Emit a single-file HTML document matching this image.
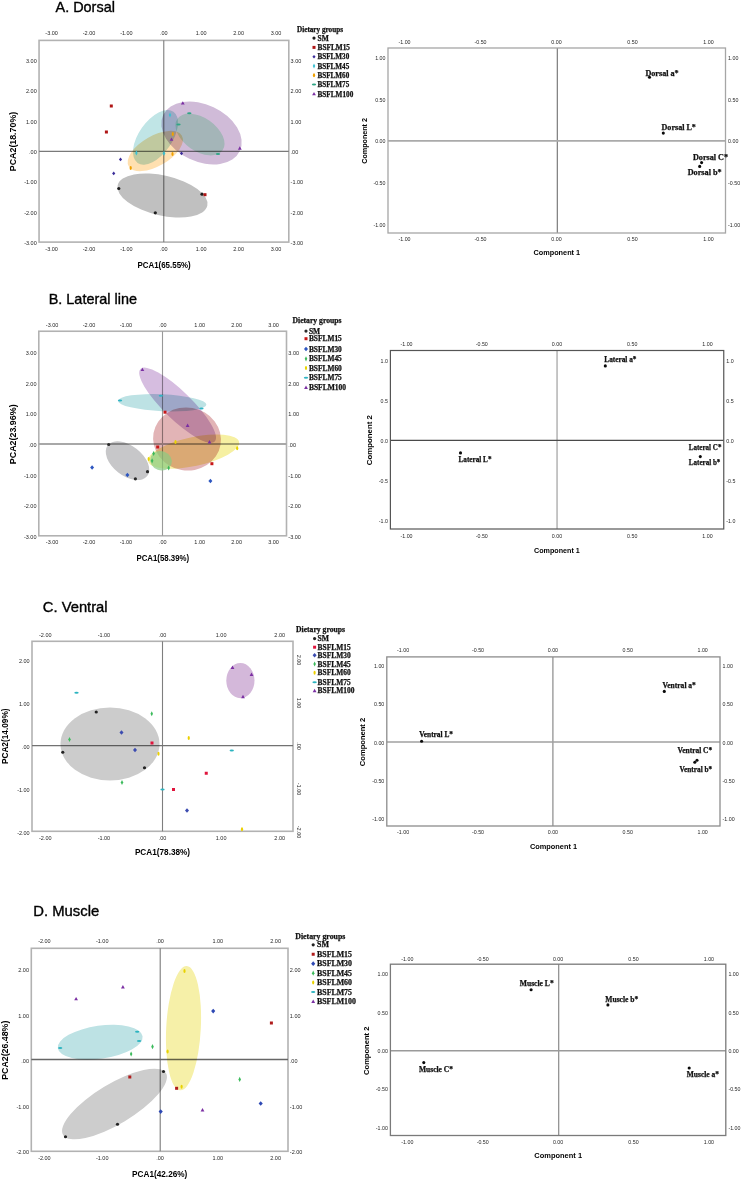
<!DOCTYPE html>
<html><head><meta charset="utf-8"><title>PCA figure</title>
<style>
html,body{margin:0;padding:0;background:#fff;}
body{width:741px;height:1180px;overflow:hidden;font-family:"Liberation Sans",sans-serif;}
svg{display:block;filter:blur(0.3px);}
</style></head>
<body>
<svg width="741" height="1180" viewBox="0 0 741 1180">
<rect width="741" height="1180" fill="#fff"/>
<rect x="39.05" y="40.4" width="249.75" height="201.7" fill="none" stroke="#b2b2b2" stroke-width="1.6"/>
<line x1="163.8" y1="40.4" x2="163.8" y2="242.1" stroke="#6e6e6e" stroke-width="1"/>
<line x1="39.05" y1="151.4" x2="288.8" y2="151.4" stroke="#7a7a7a" stroke-width="1.2"/>
<ellipse cx="162.5" cy="195.5" rx="46" ry="20" transform="rotate(13 162.5 195.5)" fill="#c0c0c0" style="mix-blend-mode:multiply"/>
<ellipse cx="155.5" cy="137.3" rx="31.3" ry="16.6" transform="rotate(-55 155.5 137.3)" fill="#c0e5e6" style="mix-blend-mode:multiply"/>
<ellipse cx="155.3" cy="151" rx="30.7" ry="15.1" transform="rotate(-30 155.3 151)" fill="#ffe0b0" style="mix-blend-mode:multiply"/>
<ellipse cx="201.5" cy="133" rx="42.3" ry="28.5" transform="rotate(25 201.5 133)" fill="#d0bbd8" style="mix-blend-mode:multiply"/>
<ellipse cx="200" cy="134.5" rx="27.6" ry="16.7" transform="rotate(35 200 134.5)" fill="#c9f7da" style="mix-blend-mode:multiply"/>
<text x="51.60000000000002" y="34.7" font-family="Liberation Sans" font-size="5.5" font-weight="400" text-anchor="middle" fill="#262626">-3.00</text>
<text x="51.60000000000002" y="251" font-family="Liberation Sans" font-size="5.5" font-weight="400" text-anchor="middle" fill="#262626">-3.00</text>
<text x="89.00000000000001" y="34.7" font-family="Liberation Sans" font-size="5.5" font-weight="400" text-anchor="middle" fill="#262626">-2.00</text>
<text x="89.00000000000001" y="251" font-family="Liberation Sans" font-size="5.5" font-weight="400" text-anchor="middle" fill="#262626">-2.00</text>
<text x="126.4" y="34.7" font-family="Liberation Sans" font-size="5.5" font-weight="400" text-anchor="middle" fill="#262626">-1.00</text>
<text x="126.4" y="251" font-family="Liberation Sans" font-size="5.5" font-weight="400" text-anchor="middle" fill="#262626">-1.00</text>
<text x="163.8" y="34.7" font-family="Liberation Sans" font-size="5.5" font-weight="400" text-anchor="middle" fill="#262626">.00</text>
<text x="163.8" y="251" font-family="Liberation Sans" font-size="5.5" font-weight="400" text-anchor="middle" fill="#262626">.00</text>
<text x="201.20000000000002" y="34.7" font-family="Liberation Sans" font-size="5.5" font-weight="400" text-anchor="middle" fill="#262626">1.00</text>
<text x="201.20000000000002" y="251" font-family="Liberation Sans" font-size="5.5" font-weight="400" text-anchor="middle" fill="#262626">1.00</text>
<text x="238.60000000000002" y="34.7" font-family="Liberation Sans" font-size="5.5" font-weight="400" text-anchor="middle" fill="#262626">2.00</text>
<text x="238.60000000000002" y="251" font-family="Liberation Sans" font-size="5.5" font-weight="400" text-anchor="middle" fill="#262626">2.00</text>
<text x="276.0" y="34.7" font-family="Liberation Sans" font-size="5.5" font-weight="400" text-anchor="middle" fill="#262626">3.00</text>
<text x="276.0" y="251" font-family="Liberation Sans" font-size="5.5" font-weight="400" text-anchor="middle" fill="#262626">3.00</text>
<text x="36.75" y="62.99999999999999" font-family="Liberation Sans" font-size="5.5" font-weight="400" text-anchor="end" fill="#262626">3.00</text>
<text x="290.6" y="62.99999999999999" font-family="Liberation Sans" font-size="5.5" font-weight="400" text-anchor="start" fill="#262626">3.00</text>
<text x="36.75" y="93.30000000000001" font-family="Liberation Sans" font-size="5.5" font-weight="400" text-anchor="end" fill="#262626">2.00</text>
<text x="290.6" y="93.30000000000001" font-family="Liberation Sans" font-size="5.5" font-weight="400" text-anchor="start" fill="#262626">2.00</text>
<text x="36.75" y="123.60000000000001" font-family="Liberation Sans" font-size="5.5" font-weight="400" text-anchor="end" fill="#262626">1.00</text>
<text x="290.6" y="123.60000000000001" font-family="Liberation Sans" font-size="5.5" font-weight="400" text-anchor="start" fill="#262626">1.00</text>
<text x="36.75" y="153.9" font-family="Liberation Sans" font-size="5.5" font-weight="400" text-anchor="end" fill="#262626">.00</text>
<text x="290.6" y="153.9" font-family="Liberation Sans" font-size="5.5" font-weight="400" text-anchor="start" fill="#262626">.00</text>
<text x="36.75" y="184.20000000000002" font-family="Liberation Sans" font-size="5.5" font-weight="400" text-anchor="end" fill="#262626">-1.00</text>
<text x="290.6" y="184.20000000000002" font-family="Liberation Sans" font-size="5.5" font-weight="400" text-anchor="start" fill="#262626">-1.00</text>
<text x="36.75" y="214.5" font-family="Liberation Sans" font-size="5.5" font-weight="400" text-anchor="end" fill="#262626">-2.00</text>
<text x="290.6" y="214.5" font-family="Liberation Sans" font-size="5.5" font-weight="400" text-anchor="start" fill="#262626">-2.00</text>
<text x="36.75" y="244.8" font-family="Liberation Sans" font-size="5.5" font-weight="400" text-anchor="end" fill="#262626">-3.00</text>
<text x="290.6" y="244.8" font-family="Liberation Sans" font-size="5.5" font-weight="400" text-anchor="start" fill="#262626">-3.00</text>
<circle cx="118.8" cy="188.5" r="1.6" fill="#1e1e1e"/>
<circle cx="155.3" cy="212.8" r="1.6" fill="#1e1e1e"/>
<circle cx="202" cy="194.2" r="1.6" fill="#1e1e1e"/>
<rect x="109.8" y="104.5" width="3" height="3" fill="#b01515"/>
<rect x="104.9" y="130.5" width="3" height="3" fill="#b01515"/>
<rect x="203.5" y="193.2" width="3" height="3" fill="#b01515"/>
<path d="M120.5 157.60L122.10 159.4L120.5 161.20L118.90 159.4Z" fill="#3b2d9a"/>
<path d="M113.7 171.60L115.30 173.4L113.7 175.20L112.10 173.4Z" fill="#3b2d9a"/>
<path d="M181.5 151.60L183.10 153.4L181.5 155.20L179.90 153.4Z" fill="#3b2d9a"/>
<path d="M136.4 150.3L137.65 152.9L136.4 155.5L135.15 152.9Z" fill="#3cc0d2"/>
<path d="M170 112.4L171.25 115L170 117.6L168.75 115Z" fill="#3cc0d2"/>
<path d="M164 150.8L165.25 153.4L164 156.0L162.75 153.4Z" fill="#3cc0d2"/>
<ellipse cx="130.7" cy="168" rx="1.1" ry="2.0" fill="#f0a000"/>
<ellipse cx="172.8" cy="134" rx="1.1" ry="2.0" fill="#f0a000"/>
<ellipse cx="172.5" cy="154" rx="1.1" ry="2.0" fill="#f0a000"/>
<ellipse cx="189.3" cy="113.2" rx="2.2" ry="1.0" fill="#2fa586"/>
<ellipse cx="178.5" cy="124.5" rx="2.2" ry="1.0" fill="#2fa586"/>
<ellipse cx="218" cy="154" rx="2.2" ry="1.0" fill="#2fa586"/>
<path d="M182.8 101.2L184.70000000000002 104.60000000000001L180.9 104.60000000000001Z" fill="#7b2fa3"/>
<path d="M239.8 146.3L241.70000000000002 149.70000000000002L237.9 149.70000000000002Z" fill="#7b2fa3"/>
<path d="M171.5 137.4L173.4 140.8L169.6 140.8Z" fill="#7b2fa3"/>
<text x="55.5" y="11.5" font-family="Liberation Sans" font-size="14.4" font-weight="400" text-anchor="start" fill="#000" textLength="59.4" lengthAdjust="spacingAndGlyphs" stroke="#000" stroke-width="0.35">A. Dorsal</text>
<text x="164.1" y="268.1" font-family="Liberation Sans" font-size="9" font-weight="700" text-anchor="middle" fill="#000" textLength="53.3" lengthAdjust="spacingAndGlyphs">PCA1(65.55%)</text>
<text x="16.3" y="141.5" font-family="Liberation Sans" font-size="9" font-weight="700" text-anchor="middle" fill="#000" textLength="59.3" lengthAdjust="spacingAndGlyphs" transform="rotate(-90 16.3 141.5)">PCA2(18.70%)</text>
<text x="297" y="32" font-family="Liberation Serif" font-size="7.25" font-weight="700" text-anchor="start" fill="#111" textLength="46" lengthAdjust="spacingAndGlyphs" stroke="#111" stroke-width="0.25">Dietary groups</text>
<circle cx="314" cy="38.1" r="1.6" fill="#1e1e1e"/>
<text x="317.5" y="40.7" font-family="Liberation Serif" font-size="7.5" font-weight="700" text-anchor="start" fill="#111" textLength="11.25" lengthAdjust="spacingAndGlyphs" stroke="#111" stroke-width="0.25">SM</text>
<rect x="312.5" y="45.9" width="3" height="3" fill="#b01515"/>
<text x="317.5" y="50.0" font-family="Liberation Serif" font-size="7.31" font-weight="700" text-anchor="start" fill="#111" textLength="32.5" lengthAdjust="spacingAndGlyphs" stroke="#111" stroke-width="0.25">BSFLM15</text>
<path d="M314 54.90L315.60 56.7L314 58.50L312.40 56.7Z" fill="#3b2d9a"/>
<text x="317.5" y="59.300000000000004" font-family="Liberation Serif" font-size="7.25" font-weight="700" text-anchor="start" fill="#111" textLength="31.75" lengthAdjust="spacingAndGlyphs" stroke="#111" stroke-width="0.25">BSFLM30</text>
<path d="M314 63.40000000000001L315.25 66.00000000000001L314 68.60000000000001L312.75 66.00000000000001Z" fill="#3cc0d2"/>
<text x="317.5" y="68.60000000000001" font-family="Liberation Serif" font-size="7.25" font-weight="700" text-anchor="start" fill="#111" textLength="31.75" lengthAdjust="spacingAndGlyphs" stroke="#111" stroke-width="0.25">BSFLM45</text>
<ellipse cx="314" cy="75.30000000000001" rx="1.1" ry="2.0" fill="#f0a000"/>
<text x="317.5" y="77.9" font-family="Liberation Serif" font-size="7.25" font-weight="700" text-anchor="start" fill="#111" textLength="31.75" lengthAdjust="spacingAndGlyphs" stroke="#111" stroke-width="0.25">BSFLM60</text>
<ellipse cx="314" cy="84.60000000000001" rx="2.2" ry="1.0" fill="#2fa586"/>
<text x="317.5" y="87.2" font-family="Liberation Serif" font-size="7.25" font-weight="700" text-anchor="start" fill="#111" textLength="31.75" lengthAdjust="spacingAndGlyphs" stroke="#111" stroke-width="0.25">BSFLM75</text>
<path d="M314 91.9L315.9 95.30000000000001L312.1 95.30000000000001Z" fill="#7b2fa3"/>
<text x="317.5" y="96.5" font-family="Liberation Serif" font-size="7.25" font-weight="700" text-anchor="start" fill="#111" textLength="35.75" lengthAdjust="spacingAndGlyphs" stroke="#111" stroke-width="0.25">BSFLM100</text>
<line x1="557.35" y1="48" x2="557.35" y2="233" stroke="#858585" stroke-width="1.3"/>
<line x1="388" y1="140.9" x2="725.5" y2="140.9" stroke="#aaaaaa" stroke-width="1.7"/>
<rect x="388" y="48" width="337.5" height="185" fill="none" stroke="#a6a6a6" stroke-width="1.3"/>
<text x="404.5" y="44.3" font-family="Liberation Sans" font-size="5.3" font-weight="400" text-anchor="middle" fill="#262626">-1.00</text>
<text x="404.5" y="241" font-family="Liberation Sans" font-size="5.3" font-weight="400" text-anchor="middle" fill="#262626">-1.00</text>
<text x="480.5" y="44.3" font-family="Liberation Sans" font-size="5.3" font-weight="400" text-anchor="middle" fill="#262626">-0.50</text>
<text x="480.5" y="241" font-family="Liberation Sans" font-size="5.3" font-weight="400" text-anchor="middle" fill="#262626">-0.50</text>
<text x="556.5" y="44.3" font-family="Liberation Sans" font-size="5.3" font-weight="400" text-anchor="middle" fill="#262626">0.00</text>
<text x="556.5" y="241" font-family="Liberation Sans" font-size="5.3" font-weight="400" text-anchor="middle" fill="#262626">0.00</text>
<text x="632.5" y="44.3" font-family="Liberation Sans" font-size="5.3" font-weight="400" text-anchor="middle" fill="#262626">0.50</text>
<text x="632.5" y="241" font-family="Liberation Sans" font-size="5.3" font-weight="400" text-anchor="middle" fill="#262626">0.50</text>
<text x="708.5" y="44.3" font-family="Liberation Sans" font-size="5.3" font-weight="400" text-anchor="middle" fill="#262626">1.00</text>
<text x="708.5" y="241" font-family="Liberation Sans" font-size="5.3" font-weight="400" text-anchor="middle" fill="#262626">1.00</text>
<text x="385.5" y="59.9" font-family="Liberation Sans" font-size="5.3" font-weight="400" text-anchor="end" fill="#262626">1.00</text>
<text x="728.1" y="59.9" font-family="Liberation Sans" font-size="5.3" font-weight="400" text-anchor="start" fill="#262626">1.00</text>
<text x="385.5" y="101.65" font-family="Liberation Sans" font-size="5.3" font-weight="400" text-anchor="end" fill="#262626">0.50</text>
<text x="728.1" y="101.65" font-family="Liberation Sans" font-size="5.3" font-weight="400" text-anchor="start" fill="#262626">0.50</text>
<text x="385.5" y="143.4" font-family="Liberation Sans" font-size="5.3" font-weight="400" text-anchor="end" fill="#262626">0.00</text>
<text x="728.1" y="143.4" font-family="Liberation Sans" font-size="5.3" font-weight="400" text-anchor="start" fill="#262626">0.00</text>
<text x="385.5" y="185.15" font-family="Liberation Sans" font-size="5.3" font-weight="400" text-anchor="end" fill="#262626">-0.50</text>
<text x="728.1" y="185.15" font-family="Liberation Sans" font-size="5.3" font-weight="400" text-anchor="start" fill="#262626">-0.50</text>
<text x="385.5" y="226.9" font-family="Liberation Sans" font-size="5.3" font-weight="400" text-anchor="end" fill="#262626">-1.00</text>
<text x="728.1" y="226.9" font-family="Liberation Sans" font-size="5.3" font-weight="400" text-anchor="start" fill="#262626">-1.00</text>
<circle cx="649.5" cy="77.2" r="1.55" fill="#0a0a0a"/>
<text x="645.4" y="75.7" font-family="Liberation Serif" font-size="8.15" font-weight="700" text-anchor="start" fill="#111" textLength="33.3" lengthAdjust="spacingAndGlyphs" stroke="#111" stroke-width="0.25">Dorsal a*</text>
<circle cx="663.3" cy="133.1" r="1.55" fill="#0a0a0a"/>
<text x="661.5" y="130.4" font-family="Liberation Serif" font-size="8.09" font-weight="700" text-anchor="start" fill="#111" textLength="34.4" lengthAdjust="spacingAndGlyphs" stroke="#111" stroke-width="0.25">Dorsal L*</text>
<circle cx="701.6" cy="162.6" r="1.55" fill="#0a0a0a"/>
<text x="692.9" y="159.6" font-family="Liberation Serif" font-size="8.17" font-weight="700" text-anchor="start" fill="#111" textLength="35.2" lengthAdjust="spacingAndGlyphs" stroke="#111" stroke-width="0.25">Dorsal C*</text>
<circle cx="699.7" cy="166.4" r="1.55" fill="#0a0a0a"/>
<text x="687.7" y="175.3" font-family="Liberation Serif" font-size="8.21" font-weight="700" text-anchor="start" fill="#111" textLength="34" lengthAdjust="spacingAndGlyphs" stroke="#111" stroke-width="0.25">Dorsal b*</text>
<text x="556.8" y="254.9" font-family="Liberation Sans" font-size="7.8" font-weight="700" text-anchor="middle" fill="#000" textLength="46.7" lengthAdjust="spacingAndGlyphs">Component 1</text>
<text x="367.2" y="140.9" font-family="Liberation Sans" font-size="8.0" font-weight="700" text-anchor="middle" fill="#000" textLength="45.7" lengthAdjust="spacingAndGlyphs" transform="rotate(-90 367.2 140.9)">Component 2</text>
<rect x="38.8" y="331.25" width="247.7" height="204.54999999999995" fill="none" stroke="#b2b2b2" stroke-width="1.6"/>
<line x1="162.5" y1="331.25" x2="162.5" y2="535.8" stroke="#999999" stroke-width="1.1"/>
<line x1="38.8" y1="444" x2="286.5" y2="444" stroke="#a8a8a8" stroke-width="1.8"/>
<ellipse cx="127.5" cy="460.7" rx="25" ry="15" transform="rotate(38 127.5 460.7)" fill="#c7c7c9" style="mix-blend-mode:multiply"/>
<ellipse cx="193.6" cy="451.6" rx="46.5" ry="14.5" transform="rotate(-12 193.6 451.6)" fill="#f6f0a2" style="mix-blend-mode:multiply"/>
<ellipse cx="187" cy="439" rx="34" ry="31.5" transform="rotate(10 187 439)" fill="#e2b4b6" style="mix-blend-mode:multiply"/>
<ellipse cx="177.6" cy="405.2" rx="51.9" ry="14" transform="rotate(44.3 177.6 405.2)" fill="#d6bde0" style="mix-blend-mode:multiply"/>
<ellipse cx="162.25" cy="402.75" rx="44.2" ry="8.5" transform="rotate(2.6 162.25 402.75)" fill="#bde2e4" style="mix-blend-mode:multiply"/>
<ellipse cx="161" cy="460.8" rx="11" ry="9.6" transform="rotate(20 161 460.8)" fill="#8acc83" fill-opacity="0.7"/>
<text x="52.10000000000002" y="326.7" font-family="Liberation Sans" font-size="5.5" font-weight="400" text-anchor="middle" fill="#262626">-3.00</text>
<text x="52.10000000000002" y="544.0" font-family="Liberation Sans" font-size="5.5" font-weight="400" text-anchor="middle" fill="#262626">-3.00</text>
<text x="89.00000000000001" y="326.7" font-family="Liberation Sans" font-size="5.5" font-weight="400" text-anchor="middle" fill="#262626">-2.00</text>
<text x="89.00000000000001" y="544.0" font-family="Liberation Sans" font-size="5.5" font-weight="400" text-anchor="middle" fill="#262626">-2.00</text>
<text x="125.9" y="326.7" font-family="Liberation Sans" font-size="5.5" font-weight="400" text-anchor="middle" fill="#262626">-1.00</text>
<text x="125.9" y="544.0" font-family="Liberation Sans" font-size="5.5" font-weight="400" text-anchor="middle" fill="#262626">-1.00</text>
<text x="162.8" y="326.7" font-family="Liberation Sans" font-size="5.5" font-weight="400" text-anchor="middle" fill="#262626">.00</text>
<text x="162.8" y="544.0" font-family="Liberation Sans" font-size="5.5" font-weight="400" text-anchor="middle" fill="#262626">.00</text>
<text x="199.70000000000002" y="326.7" font-family="Liberation Sans" font-size="5.5" font-weight="400" text-anchor="middle" fill="#262626">1.00</text>
<text x="199.70000000000002" y="544.0" font-family="Liberation Sans" font-size="5.5" font-weight="400" text-anchor="middle" fill="#262626">1.00</text>
<text x="236.60000000000002" y="326.7" font-family="Liberation Sans" font-size="5.5" font-weight="400" text-anchor="middle" fill="#262626">2.00</text>
<text x="236.60000000000002" y="544.0" font-family="Liberation Sans" font-size="5.5" font-weight="400" text-anchor="middle" fill="#262626">2.00</text>
<text x="273.5" y="326.7" font-family="Liberation Sans" font-size="5.5" font-weight="400" text-anchor="middle" fill="#262626">3.00</text>
<text x="273.5" y="544.0" font-family="Liberation Sans" font-size="5.5" font-weight="400" text-anchor="middle" fill="#262626">3.00</text>
<text x="36.5" y="354.79999999999995" font-family="Liberation Sans" font-size="5.5" font-weight="400" text-anchor="end" fill="#262626">3.00</text>
<text x="288.3" y="354.79999999999995" font-family="Liberation Sans" font-size="5.5" font-weight="400" text-anchor="start" fill="#262626">3.00</text>
<text x="36.5" y="385.5" font-family="Liberation Sans" font-size="5.5" font-weight="400" text-anchor="end" fill="#262626">2.00</text>
<text x="288.3" y="385.5" font-family="Liberation Sans" font-size="5.5" font-weight="400" text-anchor="start" fill="#262626">2.00</text>
<text x="36.5" y="416.2" font-family="Liberation Sans" font-size="5.5" font-weight="400" text-anchor="end" fill="#262626">1.00</text>
<text x="288.3" y="416.2" font-family="Liberation Sans" font-size="5.5" font-weight="400" text-anchor="start" fill="#262626">1.00</text>
<text x="36.5" y="446.9" font-family="Liberation Sans" font-size="5.5" font-weight="400" text-anchor="end" fill="#262626">.00</text>
<text x="288.3" y="446.9" font-family="Liberation Sans" font-size="5.5" font-weight="400" text-anchor="start" fill="#262626">.00</text>
<text x="36.5" y="477.59999999999997" font-family="Liberation Sans" font-size="5.5" font-weight="400" text-anchor="end" fill="#262626">-1.00</text>
<text x="288.3" y="477.59999999999997" font-family="Liberation Sans" font-size="5.5" font-weight="400" text-anchor="start" fill="#262626">-1.00</text>
<text x="36.5" y="508.29999999999995" font-family="Liberation Sans" font-size="5.5" font-weight="400" text-anchor="end" fill="#262626">-2.00</text>
<text x="288.3" y="508.29999999999995" font-family="Liberation Sans" font-size="5.5" font-weight="400" text-anchor="start" fill="#262626">-2.00</text>
<text x="36.5" y="539.0" font-family="Liberation Sans" font-size="5.5" font-weight="400" text-anchor="end" fill="#262626">-3.00</text>
<text x="288.3" y="539.0" font-family="Liberation Sans" font-size="5.5" font-weight="400" text-anchor="start" fill="#262626">-3.00</text>
<circle cx="108.7" cy="444.5" r="1.6" fill="#2a2a2a"/>
<circle cx="147.5" cy="471.7" r="1.6" fill="#2a2a2a"/>
<circle cx="135.4" cy="478.8" r="1.6" fill="#2a2a2a"/>
<rect x="163.5" y="410.7" width="3" height="3" fill="#c81818"/>
<rect x="156.2" y="445.5" width="3" height="3" fill="#c81818"/>
<rect x="210.4" y="462.2" width="3" height="3" fill="#c81818"/>
<path d="M92.1 465.15L94.10 467.4L92.1 469.65L90.10 467.4Z" fill="#2d56c0"/>
<path d="M127.4 472.65L129.40 474.9L127.4 477.15L125.40 474.9Z" fill="#2d56c0"/>
<path d="M210.4 478.75L212.40 481L210.4 483.25L208.40 481Z" fill="#2d56c0"/>
<path d="M153.6 450.9L154.85 453.5L153.6 456.1L152.35 453.5Z" fill="#3cb85a"/>
<path d="M152.1 458.2L153.35 460.8L152.1 463.40000000000003L150.85 460.8Z" fill="#3cb85a"/>
<path d="M168.7 465.4L169.95 468L168.7 470.6L167.45 468Z" fill="#3cb85a"/>
<ellipse cx="148.7" cy="459.1" rx="1.1" ry="2.0" fill="#e8d400"/>
<ellipse cx="175.5" cy="441.9" rx="1.1" ry="2.0" fill="#e8d400"/>
<ellipse cx="237.2" cy="448.2" rx="1.1" ry="2.0" fill="#e8d400"/>
<ellipse cx="120" cy="400.6" rx="2.2" ry="1.0" fill="#30b4c4"/>
<ellipse cx="160.9" cy="395.7" rx="2.2" ry="1.0" fill="#30b4c4"/>
<ellipse cx="201.4" cy="408.6" rx="2.2" ry="1.0" fill="#30b4c4"/>
<path d="M142.4 367.7L144.3 371.09999999999997L140.5 371.09999999999997Z" fill="#7b2fa3"/>
<path d="M187.6 423.6L189.5 427.0L185.7 427.0Z" fill="#7b2fa3"/>
<path d="M209.5 440.1L211.4 443.5L207.6 443.5Z" fill="#7b2fa3"/>
<text x="48.7" y="304" font-family="Liberation Sans" font-size="14.4" font-weight="400" text-anchor="start" fill="#000" textLength="88.3" lengthAdjust="spacingAndGlyphs" stroke="#000" stroke-width="0.35">B. Lateral line</text>
<text x="162.8" y="561.3" font-family="Liberation Sans" font-size="9" font-weight="700" text-anchor="middle" fill="#000" textLength="52.8" lengthAdjust="spacingAndGlyphs">PCA1(58.39%)</text>
<text x="16.3" y="434.3" font-family="Liberation Sans" font-size="9" font-weight="700" text-anchor="middle" fill="#000" textLength="59.8" lengthAdjust="spacingAndGlyphs" transform="rotate(-90 16.3 434.3)">PCA2(23.96%)</text>
<text x="292.5" y="322.9" font-family="Liberation Serif" font-size="7.66" font-weight="700" text-anchor="start" fill="#111" textLength="49" lengthAdjust="spacingAndGlyphs" stroke="#111" stroke-width="0.25">Dietary groups</text>
<circle cx="306" cy="331.09999999999997" r="1.6" fill="#2a2a2a"/>
<text x="308.9" y="333.7" font-family="Liberation Serif" font-size="7.47" font-weight="700" text-anchor="start" fill="#111" textLength="11.2" lengthAdjust="spacingAndGlyphs" stroke="#111" stroke-width="0.25">SM</text>
<rect x="304.5" y="337.2" width="3" height="3" fill="#c81818"/>
<text x="308.9" y="341.3" font-family="Liberation Serif" font-size="7.4" font-weight="700" text-anchor="start" fill="#111" textLength="32.9" lengthAdjust="spacingAndGlyphs" stroke="#111" stroke-width="0.25">BSFLM15</text>
<path d="M306 346.85L308.00 349.09999999999997L306 351.35L304.00 349.09999999999997Z" fill="#2d56c0"/>
<text x="308.9" y="351.7" font-family="Liberation Serif" font-size="7.4" font-weight="700" text-anchor="start" fill="#111" textLength="32.9" lengthAdjust="spacingAndGlyphs" stroke="#111" stroke-width="0.25">BSFLM30</text>
<path d="M306 356.19999999999993L307.25 358.79999999999995L306 361.4L304.75 358.79999999999995Z" fill="#3cb85a"/>
<text x="308.9" y="361.4" font-family="Liberation Serif" font-size="7.4" font-weight="700" text-anchor="start" fill="#111" textLength="32.9" lengthAdjust="spacingAndGlyphs" stroke="#111" stroke-width="0.25">BSFLM45</text>
<ellipse cx="306" cy="368.09999999999997" rx="1.1" ry="2.0" fill="#e8d400"/>
<text x="308.9" y="370.7" font-family="Liberation Serif" font-size="7.4" font-weight="700" text-anchor="start" fill="#111" textLength="32.9" lengthAdjust="spacingAndGlyphs" stroke="#111" stroke-width="0.25">BSFLM60</text>
<ellipse cx="306" cy="377.79999999999995" rx="2.2" ry="1.0" fill="#30b4c4"/>
<text x="308.9" y="380.4" font-family="Liberation Serif" font-size="7.4" font-weight="700" text-anchor="start" fill="#111" textLength="32.9" lengthAdjust="spacingAndGlyphs" stroke="#111" stroke-width="0.25">BSFLM75</text>
<path d="M306 385.5L307.9 388.9L304.1 388.9Z" fill="#7b2fa3"/>
<text x="308.9" y="390.1" font-family="Liberation Serif" font-size="7.52" font-weight="700" text-anchor="start" fill="#111" textLength="37.2" lengthAdjust="spacingAndGlyphs" stroke="#111" stroke-width="0.25">BSFLM100</text>
<line x1="557.05" y1="350.5" x2="557.05" y2="529" stroke="#b8b8b8" stroke-width="1.6"/>
<line x1="390.4" y1="440.35" x2="723.75" y2="440.35" stroke="#4a4a4a" stroke-width="1.2"/>
<rect x="390.4" y="350.5" width="333.35" height="178.5" fill="none" stroke="#555555" stroke-width="1.2"/>
<text x="406.5" y="346" font-family="Liberation Sans" font-size="5.3" font-weight="400" text-anchor="middle" fill="#262626">-1.00</text>
<text x="406.5" y="537.8" font-family="Liberation Sans" font-size="5.3" font-weight="400" text-anchor="middle" fill="#262626">-1.00</text>
<text x="481.75" y="346" font-family="Liberation Sans" font-size="5.3" font-weight="400" text-anchor="middle" fill="#262626">-0.50</text>
<text x="481.75" y="537.8" font-family="Liberation Sans" font-size="5.3" font-weight="400" text-anchor="middle" fill="#262626">-0.50</text>
<text x="557.0" y="346" font-family="Liberation Sans" font-size="5.3" font-weight="400" text-anchor="middle" fill="#262626">0.00</text>
<text x="557.0" y="537.8" font-family="Liberation Sans" font-size="5.3" font-weight="400" text-anchor="middle" fill="#262626">0.00</text>
<text x="632.25" y="346" font-family="Liberation Sans" font-size="5.3" font-weight="400" text-anchor="middle" fill="#262626">0.50</text>
<text x="632.25" y="537.8" font-family="Liberation Sans" font-size="5.3" font-weight="400" text-anchor="middle" fill="#262626">0.50</text>
<text x="707.5" y="346" font-family="Liberation Sans" font-size="5.3" font-weight="400" text-anchor="middle" fill="#262626">1.00</text>
<text x="707.5" y="537.8" font-family="Liberation Sans" font-size="5.3" font-weight="400" text-anchor="middle" fill="#262626">1.00</text>
<text x="387.9" y="362.5" font-family="Liberation Sans" font-size="5.3" font-weight="400" text-anchor="end" fill="#262626">1.0</text>
<text x="726.35" y="362.5" font-family="Liberation Sans" font-size="5.3" font-weight="400" text-anchor="start" fill="#262626">1.0</text>
<text x="387.9" y="402.5" font-family="Liberation Sans" font-size="5.3" font-weight="400" text-anchor="end" fill="#262626">0.5</text>
<text x="726.35" y="402.5" font-family="Liberation Sans" font-size="5.3" font-weight="400" text-anchor="start" fill="#262626">0.5</text>
<text x="387.9" y="442.5" font-family="Liberation Sans" font-size="5.3" font-weight="400" text-anchor="end" fill="#262626">0.0</text>
<text x="726.35" y="442.5" font-family="Liberation Sans" font-size="5.3" font-weight="400" text-anchor="start" fill="#262626">0.0</text>
<text x="387.9" y="482.5" font-family="Liberation Sans" font-size="5.3" font-weight="400" text-anchor="end" fill="#262626">-0.5</text>
<text x="726.35" y="482.5" font-family="Liberation Sans" font-size="5.3" font-weight="400" text-anchor="start" fill="#262626">-0.5</text>
<text x="387.9" y="522.5" font-family="Liberation Sans" font-size="5.3" font-weight="400" text-anchor="end" fill="#262626">-1.0</text>
<text x="726.35" y="522.5" font-family="Liberation Sans" font-size="5.3" font-weight="400" text-anchor="start" fill="#262626">-1.0</text>
<circle cx="605.3" cy="365.9" r="1.55" fill="#0a0a0a"/>
<text x="604.3" y="362.2" font-family="Liberation Serif" font-size="7.29" font-weight="700" text-anchor="start" fill="#111" textLength="32.2" lengthAdjust="spacingAndGlyphs" stroke="#111" stroke-width="0.25">Lateral a*</text>
<circle cx="460.5" cy="452.9" r="1.55" fill="#0a0a0a"/>
<text x="458.5" y="462" font-family="Liberation Serif" font-size="7.25" font-weight="700" text-anchor="start" fill="#111" textLength="33" lengthAdjust="spacingAndGlyphs" stroke="#111" stroke-width="0.25">Lateral L*</text>
<circle cx="700.3" cy="456.6" r="1.55" fill="#0a0a0a"/>
<text x="688.8" y="449.9" font-family="Liberation Serif" font-size="7.25" font-weight="700" text-anchor="start" fill="#111" textLength="32.6" lengthAdjust="spacingAndGlyphs" stroke="#111" stroke-width="0.25">Lateral C*</text>
<text x="688.8" y="465.1" font-family="Liberation Serif" font-size="7.25" font-weight="700" text-anchor="start" fill="#111" textLength="31.6" lengthAdjust="spacingAndGlyphs" stroke="#111" stroke-width="0.25">Lateral b*</text>
<text x="556.9" y="553.2" font-family="Liberation Sans" font-size="7.8" font-weight="700" text-anchor="middle" fill="#000" textLength="45.7" lengthAdjust="spacingAndGlyphs">Component 1</text>
<text x="372" y="440.2" font-family="Liberation Sans" font-size="8.0" font-weight="700" text-anchor="middle" fill="#000" textLength="50.1" lengthAdjust="spacingAndGlyphs" transform="rotate(-90 372 440.2)">Component 2</text>
<rect x="32" y="641.3" width="261" height="190.0" fill="none" stroke="#b2b2b2" stroke-width="1.6"/>
<line x1="162.5" y1="641.3" x2="162.5" y2="831.3" stroke="#7e7e7e" stroke-width="1.1"/>
<line x1="32" y1="745.6" x2="293" y2="745.6" stroke="#727272" stroke-width="1.2"/>
<ellipse cx="110" cy="744" rx="49.5" ry="36.5" transform="rotate(0 110 744)" fill="#cccccc" style="mix-blend-mode:multiply"/>
<ellipse cx="240.4" cy="680.6" rx="14.1" ry="17.6" transform="rotate(0 240.4 680.6)" fill="#d4b8da" style="mix-blend-mode:multiply"/>
<text x="45.3" y="637.2" font-family="Liberation Sans" font-size="5.5" font-weight="400" text-anchor="middle" fill="#262626">-2.00</text>
<text x="45.3" y="839.7" font-family="Liberation Sans" font-size="5.5" font-weight="400" text-anchor="middle" fill="#262626">-2.00</text>
<text x="103.9" y="637.2" font-family="Liberation Sans" font-size="5.5" font-weight="400" text-anchor="middle" fill="#262626">-1.00</text>
<text x="103.9" y="839.7" font-family="Liberation Sans" font-size="5.5" font-weight="400" text-anchor="middle" fill="#262626">-1.00</text>
<text x="162.5" y="637.2" font-family="Liberation Sans" font-size="5.5" font-weight="400" text-anchor="middle" fill="#262626">.00</text>
<text x="162.5" y="839.7" font-family="Liberation Sans" font-size="5.5" font-weight="400" text-anchor="middle" fill="#262626">.00</text>
<text x="221.1" y="637.2" font-family="Liberation Sans" font-size="5.5" font-weight="400" text-anchor="middle" fill="#262626">1.00</text>
<text x="221.1" y="839.7" font-family="Liberation Sans" font-size="5.5" font-weight="400" text-anchor="middle" fill="#262626">1.00</text>
<text x="279.7" y="637.2" font-family="Liberation Sans" font-size="5.5" font-weight="400" text-anchor="middle" fill="#262626">2.00</text>
<text x="279.7" y="839.7" font-family="Liberation Sans" font-size="5.5" font-weight="400" text-anchor="middle" fill="#262626">2.00</text>
<text x="29.7" y="663.4" font-family="Liberation Sans" font-size="5.5" font-weight="400" text-anchor="end" fill="#262626">2.00</text>
<text x="297" y="660" font-family="Liberation Sans" font-size="5.5" font-weight="400" text-anchor="middle" fill="#262626" transform="rotate(90 297 660)">2.00</text>
<text x="29.7" y="706.4" font-family="Liberation Sans" font-size="5.5" font-weight="400" text-anchor="end" fill="#262626">1.00</text>
<text x="297" y="703" font-family="Liberation Sans" font-size="5.5" font-weight="400" text-anchor="middle" fill="#262626" transform="rotate(90 297 703)">1.00</text>
<text x="29.7" y="749.4" font-family="Liberation Sans" font-size="5.5" font-weight="400" text-anchor="end" fill="#262626">.00</text>
<text x="297" y="746" font-family="Liberation Sans" font-size="5.5" font-weight="400" text-anchor="middle" fill="#262626" transform="rotate(90 297 746)">.00</text>
<text x="29.7" y="792.4" font-family="Liberation Sans" font-size="5.5" font-weight="400" text-anchor="end" fill="#262626">-1.00</text>
<text x="297" y="789" font-family="Liberation Sans" font-size="5.5" font-weight="400" text-anchor="middle" fill="#262626" transform="rotate(90 297 789)">-1.00</text>
<text x="29.7" y="835.4" font-family="Liberation Sans" font-size="5.5" font-weight="400" text-anchor="end" fill="#262626">-2.00</text>
<text x="297" y="832" font-family="Liberation Sans" font-size="5.5" font-weight="400" text-anchor="middle" fill="#262626" transform="rotate(90 297 832)">-2.00</text>
<circle cx="96.25" cy="712" r="1.6" fill="#222222"/>
<circle cx="62.75" cy="752.25" r="1.6" fill="#222222"/>
<circle cx="144.5" cy="767.75" r="1.6" fill="#222222"/>
<rect x="150.5" y="741.5" width="3" height="3" fill="#e0143c"/>
<rect x="204.75" y="771.75" width="3" height="3" fill="#e0143c"/>
<rect x="172.0" y="788.0" width="3" height="3" fill="#e0143c"/>
<path d="M121.5 730.25L123.50 732.5L121.5 734.75L119.50 732.5Z" fill="#3c4cb0"/>
<path d="M135 747.75L137.00 750L135 752.25L133.00 750Z" fill="#3c4cb0"/>
<path d="M187 808.25L189.00 810.5L187 812.75L185.00 810.5Z" fill="#3c4cb0"/>
<path d="M151.75 711.15L153.0 713.75L151.75 716.35L150.5 713.75Z" fill="#3cbb5c"/>
<path d="M69.5 736.9L70.75 739.5L69.5 742.1L68.25 739.5Z" fill="#3cbb5c"/>
<path d="M122 779.9L123.25 782.5L122 785.1L120.75 782.5Z" fill="#3cbb5c"/>
<ellipse cx="158.5" cy="753.75" rx="1.1" ry="2.0" fill="#ecd000"/>
<ellipse cx="188.75" cy="738" rx="1.1" ry="2.0" fill="#ecd000"/>
<ellipse cx="242" cy="829.25" rx="1.1" ry="2.0" fill="#ecd000"/>
<ellipse cx="76.5" cy="692.75" rx="2.2" ry="1.0" fill="#2cb4c0"/>
<ellipse cx="162.5" cy="789.5" rx="2.2" ry="1.0" fill="#2cb4c0"/>
<ellipse cx="231.75" cy="750.5" rx="2.2" ry="1.0" fill="#2cb4c0"/>
<path d="M232.5 665.5L234.4 668.9L230.6 668.9Z" fill="#7b2fa3"/>
<path d="M251.5 672.5L253.4 675.9L249.6 675.9Z" fill="#7b2fa3"/>
<path d="M243 694.75L244.9 698.15L241.1 698.15Z" fill="#7b2fa3"/>
<text x="42.8" y="611.7" font-family="Liberation Sans" font-size="14.4" font-weight="400" text-anchor="start" fill="#000" textLength="64.8" lengthAdjust="spacingAndGlyphs" stroke="#000" stroke-width="0.35">C. Ventral</text>
<text x="162.5" y="855.2" font-family="Liberation Sans" font-size="9" font-weight="700" text-anchor="middle" fill="#000" textLength="55.2" lengthAdjust="spacingAndGlyphs">PCA1(78.38%)</text>
<text x="8.0" y="736.3" font-family="Liberation Sans" font-size="9" font-weight="700" text-anchor="middle" fill="#000" textLength="55.6" lengthAdjust="spacingAndGlyphs" transform="rotate(-90 8.0 736.3)">PCA2(14.09%)</text>
<text x="296.0" y="631.7" font-family="Liberation Serif" font-size="7.66" font-weight="700" text-anchor="start" fill="#111" textLength="49" lengthAdjust="spacingAndGlyphs" stroke="#111" stroke-width="0.25">Dietary groups</text>
<circle cx="314.6" cy="638.6" r="1.6" fill="#222222"/>
<text x="317.6" y="641.2" font-family="Liberation Serif" font-size="7.67" font-weight="700" text-anchor="start" fill="#111" textLength="11.5" lengthAdjust="spacingAndGlyphs" stroke="#111" stroke-width="0.25">SM</text>
<rect x="313.1" y="645.6999999999999" width="3" height="3" fill="#e0143c"/>
<text x="317.6" y="649.8" font-family="Liberation Serif" font-size="7.42" font-weight="700" text-anchor="start" fill="#111" textLength="33" lengthAdjust="spacingAndGlyphs" stroke="#111" stroke-width="0.25">BSFLM15</text>
<path d="M314.6 652.95L316.60 655.1999999999999L314.6 657.45L312.60 655.1999999999999Z" fill="#3c4cb0"/>
<text x="317.6" y="657.8" font-family="Liberation Serif" font-size="7.42" font-weight="700" text-anchor="start" fill="#111" textLength="33" lengthAdjust="spacingAndGlyphs" stroke="#111" stroke-width="0.25">BSFLM30</text>
<path d="M314.6 661.4L315.85 664.0L314.6 666.6L313.35 664.0Z" fill="#3cbb5c"/>
<text x="317.6" y="666.6" font-family="Liberation Serif" font-size="7.42" font-weight="700" text-anchor="start" fill="#111" textLength="33" lengthAdjust="spacingAndGlyphs" stroke="#111" stroke-width="0.25">BSFLM45</text>
<ellipse cx="314.6" cy="672.6999999999999" rx="1.1" ry="2.0" fill="#ecd000"/>
<text x="317.6" y="675.3" font-family="Liberation Serif" font-size="7.42" font-weight="700" text-anchor="start" fill="#111" textLength="33" lengthAdjust="spacingAndGlyphs" stroke="#111" stroke-width="0.25">BSFLM60</text>
<ellipse cx="314.6" cy="682.1999999999999" rx="2.2" ry="1.0" fill="#2cb4c0"/>
<text x="317.6" y="684.8" font-family="Liberation Serif" font-size="7.42" font-weight="700" text-anchor="start" fill="#111" textLength="33" lengthAdjust="spacingAndGlyphs" stroke="#111" stroke-width="0.25">BSFLM75</text>
<path d="M314.6 688.8L316.5 692.1999999999999L312.70000000000005 692.1999999999999Z" fill="#7b2fa3"/>
<text x="317.6" y="693.4" font-family="Liberation Serif" font-size="7.46" font-weight="700" text-anchor="start" fill="#111" textLength="36.9" lengthAdjust="spacingAndGlyphs" stroke="#111" stroke-width="0.25">BSFLM100</text>
<line x1="552.9" y1="656.9" x2="552.9" y2="826" stroke="#8a8a8a" stroke-width="1.2"/>
<line x1="386.8" y1="742.0" x2="720" y2="742.0" stroke="#a0a0a0" stroke-width="1.4"/>
<rect x="386.8" y="656.9" width="333.2" height="169.10000000000002" fill="none" stroke="#8c8c8c" stroke-width="1.3"/>
<text x="403.15" y="652.4" font-family="Liberation Sans" font-size="5.3" font-weight="400" text-anchor="middle" fill="#262626">-1.00</text>
<text x="403.15" y="834.2" font-family="Liberation Sans" font-size="5.3" font-weight="400" text-anchor="middle" fill="#262626">-1.00</text>
<text x="478.025" y="652.4" font-family="Liberation Sans" font-size="5.3" font-weight="400" text-anchor="middle" fill="#262626">-0.50</text>
<text x="478.025" y="834.2" font-family="Liberation Sans" font-size="5.3" font-weight="400" text-anchor="middle" fill="#262626">-0.50</text>
<text x="552.9" y="652.4" font-family="Liberation Sans" font-size="5.3" font-weight="400" text-anchor="middle" fill="#262626">0.00</text>
<text x="552.9" y="834.2" font-family="Liberation Sans" font-size="5.3" font-weight="400" text-anchor="middle" fill="#262626">0.00</text>
<text x="627.775" y="652.4" font-family="Liberation Sans" font-size="5.3" font-weight="400" text-anchor="middle" fill="#262626">0.50</text>
<text x="627.775" y="834.2" font-family="Liberation Sans" font-size="5.3" font-weight="400" text-anchor="middle" fill="#262626">0.50</text>
<text x="702.65" y="652.4" font-family="Liberation Sans" font-size="5.3" font-weight="400" text-anchor="middle" fill="#262626">1.00</text>
<text x="702.65" y="834.2" font-family="Liberation Sans" font-size="5.3" font-weight="400" text-anchor="middle" fill="#262626">1.00</text>
<text x="384.3" y="668.1999999999999" font-family="Liberation Sans" font-size="5.3" font-weight="400" text-anchor="end" fill="#262626">1.00</text>
<text x="722.6" y="668.1999999999999" font-family="Liberation Sans" font-size="5.3" font-weight="400" text-anchor="start" fill="#262626">1.00</text>
<text x="384.3" y="706.4499999999999" font-family="Liberation Sans" font-size="5.3" font-weight="400" text-anchor="end" fill="#262626">0.50</text>
<text x="722.6" y="706.4499999999999" font-family="Liberation Sans" font-size="5.3" font-weight="400" text-anchor="start" fill="#262626">0.50</text>
<text x="384.3" y="744.6999999999999" font-family="Liberation Sans" font-size="5.3" font-weight="400" text-anchor="end" fill="#262626">0.00</text>
<text x="722.6" y="744.6999999999999" font-family="Liberation Sans" font-size="5.3" font-weight="400" text-anchor="start" fill="#262626">0.00</text>
<text x="384.3" y="782.9499999999999" font-family="Liberation Sans" font-size="5.3" font-weight="400" text-anchor="end" fill="#262626">-0.50</text>
<text x="722.6" y="782.9499999999999" font-family="Liberation Sans" font-size="5.3" font-weight="400" text-anchor="start" fill="#262626">-0.50</text>
<text x="384.3" y="821.1999999999999" font-family="Liberation Sans" font-size="5.3" font-weight="400" text-anchor="end" fill="#262626">-1.00</text>
<text x="722.6" y="821.1999999999999" font-family="Liberation Sans" font-size="5.3" font-weight="400" text-anchor="start" fill="#262626">-1.00</text>
<circle cx="664.3" cy="691.4" r="1.55" fill="#0a0a0a"/>
<text x="662.5" y="687.7" font-family="Liberation Serif" font-size="7.53" font-weight="700" text-anchor="start" fill="#111" textLength="33.4" lengthAdjust="spacingAndGlyphs" stroke="#111" stroke-width="0.25">Ventral a*</text>
<circle cx="421.6" cy="741.2" r="1.55" fill="#0a0a0a"/>
<text x="419.2" y="737.2" font-family="Liberation Serif" font-size="7.34" font-weight="700" text-anchor="start" fill="#111" textLength="33.8" lengthAdjust="spacingAndGlyphs" stroke="#111" stroke-width="0.25">Ventral L*</text>
<circle cx="697" cy="760.2" r="1.55" fill="#0a0a0a"/>
<text x="677.5" y="753.4" font-family="Liberation Serif" font-size="7.45" font-weight="700" text-anchor="start" fill="#111" textLength="34.7" lengthAdjust="spacingAndGlyphs" stroke="#111" stroke-width="0.25">Ventral C*</text>
<circle cx="694.8" cy="762.3" r="1.55" fill="#0a0a0a"/>
<text x="679.5" y="771.5" font-family="Liberation Serif" font-size="7.28" font-weight="700" text-anchor="start" fill="#111" textLength="32.7" lengthAdjust="spacingAndGlyphs" stroke="#111" stroke-width="0.25">Ventral b*</text>
<text x="553.5" y="849" font-family="Liberation Sans" font-size="7.8" font-weight="700" text-anchor="middle" fill="#000" textLength="47.2" lengthAdjust="spacingAndGlyphs">Component 1</text>
<text x="364.8" y="742" font-family="Liberation Sans" font-size="8.0" font-weight="700" text-anchor="middle" fill="#000" textLength="48.3" lengthAdjust="spacingAndGlyphs" transform="rotate(-90 364.8 742)">Component 2</text>
<rect x="31.3" y="948.3" width="256.7" height="203.0" fill="none" stroke="#b2b2b2" stroke-width="1.6"/>
<line x1="160.2" y1="948.3" x2="160.2" y2="1151.3" stroke="#7a7a7a" stroke-width="1.1"/>
<line x1="31.3" y1="1059.5" x2="288" y2="1059.5" stroke="#666666" stroke-width="1.3"/>
<ellipse cx="114.5" cy="1104" rx="60" ry="20" transform="rotate(-31 114.5 1104)" fill="#cdcdcd" style="mix-blend-mode:multiply"/>
<ellipse cx="183.5" cy="1028.2" rx="17.3" ry="62.2" transform="rotate(3 183.5 1028.2)" fill="#f6f0a8" style="mix-blend-mode:multiply"/>
<ellipse cx="100.2" cy="1042.2" rx="42.8" ry="16.5" transform="rotate(-8 100.2 1042.2)" fill="#bde2e4" style="mix-blend-mode:multiply"/>
<text x="44.400000000000006" y="942.8" font-family="Liberation Sans" font-size="5.5" font-weight="400" text-anchor="middle" fill="#262626">-2.00</text>
<text x="44.400000000000006" y="1160.2" font-family="Liberation Sans" font-size="5.5" font-weight="400" text-anchor="middle" fill="#262626">-2.00</text>
<text x="102.2" y="942.8" font-family="Liberation Sans" font-size="5.5" font-weight="400" text-anchor="middle" fill="#262626">-1.00</text>
<text x="102.2" y="1160.2" font-family="Liberation Sans" font-size="5.5" font-weight="400" text-anchor="middle" fill="#262626">-1.00</text>
<text x="160.0" y="942.8" font-family="Liberation Sans" font-size="5.5" font-weight="400" text-anchor="middle" fill="#262626">.00</text>
<text x="160.0" y="1160.2" font-family="Liberation Sans" font-size="5.5" font-weight="400" text-anchor="middle" fill="#262626">.00</text>
<text x="217.8" y="942.8" font-family="Liberation Sans" font-size="5.5" font-weight="400" text-anchor="middle" fill="#262626">1.00</text>
<text x="217.8" y="1160.2" font-family="Liberation Sans" font-size="5.5" font-weight="400" text-anchor="middle" fill="#262626">1.00</text>
<text x="275.6" y="942.8" font-family="Liberation Sans" font-size="5.5" font-weight="400" text-anchor="middle" fill="#262626">2.00</text>
<text x="275.6" y="1160.2" font-family="Liberation Sans" font-size="5.5" font-weight="400" text-anchor="middle" fill="#262626">2.00</text>
<text x="29.0" y="971.9" font-family="Liberation Sans" font-size="5.5" font-weight="400" text-anchor="end" fill="#262626">2.00</text>
<text x="289.8" y="971.9" font-family="Liberation Sans" font-size="5.5" font-weight="400" text-anchor="start" fill="#262626">2.00</text>
<text x="29.0" y="1017.5" font-family="Liberation Sans" font-size="5.5" font-weight="400" text-anchor="end" fill="#262626">1.00</text>
<text x="289.8" y="1017.5" font-family="Liberation Sans" font-size="5.5" font-weight="400" text-anchor="start" fill="#262626">1.00</text>
<text x="29.0" y="1063.1000000000001" font-family="Liberation Sans" font-size="5.5" font-weight="400" text-anchor="end" fill="#262626">.00</text>
<text x="289.8" y="1063.1000000000001" font-family="Liberation Sans" font-size="5.5" font-weight="400" text-anchor="start" fill="#262626">.00</text>
<text x="29.0" y="1108.7" font-family="Liberation Sans" font-size="5.5" font-weight="400" text-anchor="end" fill="#262626">-1.00</text>
<text x="289.8" y="1108.7" font-family="Liberation Sans" font-size="5.5" font-weight="400" text-anchor="start" fill="#262626">-1.00</text>
<text x="29.0" y="1154.3000000000002" font-family="Liberation Sans" font-size="5.5" font-weight="400" text-anchor="end" fill="#262626">-2.00</text>
<text x="289.8" y="1154.3000000000002" font-family="Liberation Sans" font-size="5.5" font-weight="400" text-anchor="start" fill="#262626">-2.00</text>
<circle cx="65.5" cy="1136.75" r="1.6" fill="#222222"/>
<circle cx="117.5" cy="1124.25" r="1.6" fill="#222222"/>
<circle cx="163.5" cy="1071.5" r="1.6" fill="#222222"/>
<rect x="128.3" y="1075.5" width="3" height="3" fill="#b01c1c"/>
<rect x="175.1" y="1086.8" width="3" height="3" fill="#b01c1c"/>
<rect x="269.9" y="1021.5" width="3" height="3" fill="#b01c1c"/>
<path d="M213.2 1008.76L215.28 1011.1L213.2 1013.44L211.12 1011.1Z" fill="#2d48b4"/>
<path d="M160.7 1109.26L162.78 1111.6L160.7 1113.94L158.62 1111.6Z" fill="#2d48b4"/>
<path d="M260.7 1101.16L262.78 1103.5L260.7 1105.84L258.62 1103.5Z" fill="#2d48b4"/>
<path d="M131.1 1051.4L132.35 1054L131.1 1056.6L129.85 1054Z" fill="#3cbb5c"/>
<path d="M152.5 1044.1000000000001L153.75 1046.7L152.5 1049.3L151.25 1046.7Z" fill="#3cbb5c"/>
<path d="M239.7 1076.8000000000002L240.95 1079.4L239.7 1082.0L238.45 1079.4Z" fill="#3cbb5c"/>
<ellipse cx="184.5" cy="970.9" rx="1.1" ry="2.0" fill="#e8d200"/>
<ellipse cx="167.6" cy="1051.4" rx="1.1" ry="2.0" fill="#e8d200"/>
<ellipse cx="181.6" cy="1086.8" rx="1.1" ry="2.0" fill="#e8d200"/>
<ellipse cx="60.2" cy="1047.9" rx="2.2" ry="1.0" fill="#2cb4c0"/>
<ellipse cx="137.2" cy="1031.7" rx="2.2" ry="1.0" fill="#2cb4c0"/>
<ellipse cx="139.1" cy="1040.9" rx="2.2" ry="1.0" fill="#2cb4c0"/>
<path d="M76.1 996.9L78.0 1000.3L74.19999999999999 1000.3Z" fill="#7b2fa3"/>
<path d="M122.9 985.1L124.80000000000001 988.5L121.0 988.5Z" fill="#7b2fa3"/>
<path d="M202.5 1108L204.4 1111.4L200.6 1111.4Z" fill="#7b2fa3"/>
<text x="33.25" y="916" font-family="Liberation Sans" font-size="14.4" font-weight="400" text-anchor="start" fill="#000" textLength="66" lengthAdjust="spacingAndGlyphs" stroke="#000" stroke-width="0.35">D. Muscle</text>
<text x="159.7" y="1176.7" font-family="Liberation Sans" font-size="9" font-weight="700" text-anchor="middle" fill="#000" textLength="55.2" lengthAdjust="spacingAndGlyphs">PCA1(42.26%)</text>
<text x="7.8" y="1050.2" font-family="Liberation Sans" font-size="9" font-weight="700" text-anchor="middle" fill="#000" textLength="59.1" lengthAdjust="spacingAndGlyphs" transform="rotate(-90 7.8 1050.2)">PCA2(26.48%)</text>
<text x="295.3" y="938.8" font-family="Liberation Serif" font-size="7.81" font-weight="700" text-anchor="start" fill="#111" textLength="50" lengthAdjust="spacingAndGlyphs" stroke="#111" stroke-width="0.25">Dietary groups</text>
<circle cx="313.2" cy="944.8" r="1.6" fill="#222222"/>
<text x="317" y="947.4" font-family="Liberation Serif" font-size="8.0" font-weight="700" text-anchor="start" fill="#111" textLength="12" lengthAdjust="spacingAndGlyphs" stroke="#111" stroke-width="0.25">SM</text>
<rect x="311.7" y="952.75" width="3" height="3" fill="#b01c1c"/>
<text x="317" y="956.85" font-family="Liberation Serif" font-size="7.87" font-weight="700" text-anchor="start" fill="#111" textLength="35" lengthAdjust="spacingAndGlyphs" stroke="#111" stroke-width="0.25">BSFLM15</text>
<path d="M313.2 961.36L315.28 963.6999999999999L313.2 966.04L311.12 963.6999999999999Z" fill="#2d48b4"/>
<text x="317" y="966.3" font-family="Liberation Serif" font-size="7.87" font-weight="700" text-anchor="start" fill="#111" textLength="35" lengthAdjust="spacingAndGlyphs" stroke="#111" stroke-width="0.25">BSFLM30</text>
<path d="M313.2 970.55L314.45 973.15L313.2 975.75L311.95 973.15Z" fill="#3cbb5c"/>
<text x="317" y="975.75" font-family="Liberation Serif" font-size="7.87" font-weight="700" text-anchor="start" fill="#111" textLength="35" lengthAdjust="spacingAndGlyphs" stroke="#111" stroke-width="0.25">BSFLM45</text>
<ellipse cx="313.2" cy="982.5999999999999" rx="1.1" ry="2.0" fill="#e8d200"/>
<text x="317" y="985.1999999999999" font-family="Liberation Serif" font-size="7.87" font-weight="700" text-anchor="start" fill="#111" textLength="35" lengthAdjust="spacingAndGlyphs" stroke="#111" stroke-width="0.25">BSFLM60</text>
<ellipse cx="313.2" cy="992.05" rx="2.2" ry="1.0" fill="#2cb4c0"/>
<text x="317" y="994.65" font-family="Liberation Serif" font-size="7.87" font-weight="700" text-anchor="start" fill="#111" textLength="35" lengthAdjust="spacingAndGlyphs" stroke="#111" stroke-width="0.25">BSFLM75</text>
<path d="M313.2 999.5L315.09999999999997 1002.9L311.3 1002.9Z" fill="#7b2fa3"/>
<text x="317" y="1004.1" font-family="Liberation Serif" font-size="7.87" font-weight="700" text-anchor="start" fill="#111" textLength="38.9" lengthAdjust="spacingAndGlyphs" stroke="#111" stroke-width="0.25">BSFLM100</text>
<line x1="558.7" y1="964.2" x2="558.7" y2="1135.5" stroke="#8a8a8a" stroke-width="1.2"/>
<line x1="390.4" y1="1050.75" x2="725.8" y2="1050.75" stroke="#9a9a9a" stroke-width="1.5"/>
<rect x="390.4" y="964.2" width="335.4" height="171.29999999999995" fill="none" stroke="#7a7a7a" stroke-width="1.3"/>
<text x="407.3" y="961.3" font-family="Liberation Sans" font-size="5.3" font-weight="400" text-anchor="middle" fill="#262626">-1.00</text>
<text x="407.3" y="1143.6" font-family="Liberation Sans" font-size="5.3" font-weight="400" text-anchor="middle" fill="#262626">-1.00</text>
<text x="482.70000000000005" y="961.3" font-family="Liberation Sans" font-size="5.3" font-weight="400" text-anchor="middle" fill="#262626">-0.50</text>
<text x="482.70000000000005" y="1143.6" font-family="Liberation Sans" font-size="5.3" font-weight="400" text-anchor="middle" fill="#262626">-0.50</text>
<text x="558.1" y="961.3" font-family="Liberation Sans" font-size="5.3" font-weight="400" text-anchor="middle" fill="#262626">0.00</text>
<text x="558.1" y="1143.6" font-family="Liberation Sans" font-size="5.3" font-weight="400" text-anchor="middle" fill="#262626">0.00</text>
<text x="633.5" y="961.3" font-family="Liberation Sans" font-size="5.3" font-weight="400" text-anchor="middle" fill="#262626">0.50</text>
<text x="633.5" y="1143.6" font-family="Liberation Sans" font-size="5.3" font-weight="400" text-anchor="middle" fill="#262626">0.50</text>
<text x="708.9000000000001" y="961.3" font-family="Liberation Sans" font-size="5.3" font-weight="400" text-anchor="middle" fill="#262626">1.00</text>
<text x="708.9000000000001" y="1143.6" font-family="Liberation Sans" font-size="5.3" font-weight="400" text-anchor="middle" fill="#262626">1.00</text>
<text x="387.9" y="976.0999999999999" font-family="Liberation Sans" font-size="5.3" font-weight="400" text-anchor="end" fill="#262626">1.00</text>
<text x="728.4" y="976.0999999999999" font-family="Liberation Sans" font-size="5.3" font-weight="400" text-anchor="start" fill="#262626">1.00</text>
<text x="387.9" y="1014.5499999999998" font-family="Liberation Sans" font-size="5.3" font-weight="400" text-anchor="end" fill="#262626">0.50</text>
<text x="728.4" y="1014.5499999999998" font-family="Liberation Sans" font-size="5.3" font-weight="400" text-anchor="start" fill="#262626">0.50</text>
<text x="387.9" y="1053.0" font-family="Liberation Sans" font-size="5.3" font-weight="400" text-anchor="end" fill="#262626">0.00</text>
<text x="728.4" y="1053.0" font-family="Liberation Sans" font-size="5.3" font-weight="400" text-anchor="start" fill="#262626">0.00</text>
<text x="387.9" y="1091.45" font-family="Liberation Sans" font-size="5.3" font-weight="400" text-anchor="end" fill="#262626">-0.50</text>
<text x="728.4" y="1091.45" font-family="Liberation Sans" font-size="5.3" font-weight="400" text-anchor="start" fill="#262626">-0.50</text>
<text x="387.9" y="1129.9" font-family="Liberation Sans" font-size="5.3" font-weight="400" text-anchor="end" fill="#262626">-1.00</text>
<text x="728.4" y="1129.9" font-family="Liberation Sans" font-size="5.3" font-weight="400" text-anchor="start" fill="#262626">-1.00</text>
<circle cx="531.1" cy="989.8" r="1.55" fill="#0a0a0a"/>
<text x="519.8" y="985.5" font-family="Liberation Serif" font-size="7.58" font-weight="700" text-anchor="start" fill="#111" textLength="33.9" lengthAdjust="spacingAndGlyphs" stroke="#111" stroke-width="0.25">Muscle L*</text>
<circle cx="607.9" cy="1004.9" r="1.55" fill="#0a0a0a"/>
<text x="605.3" y="1002" font-family="Liberation Serif" font-size="7.57" font-weight="700" text-anchor="start" fill="#111" textLength="33" lengthAdjust="spacingAndGlyphs" stroke="#111" stroke-width="0.25">Muscle b*</text>
<circle cx="423.8" cy="1062.6" r="1.55" fill="#0a0a0a"/>
<text x="419" y="1072.3" font-family="Liberation Serif" font-size="7.49" font-weight="700" text-anchor="start" fill="#111" textLength="33.9" lengthAdjust="spacingAndGlyphs" stroke="#111" stroke-width="0.25">Muscle C*</text>
<circle cx="689.2" cy="1068" r="1.55" fill="#0a0a0a"/>
<text x="686.8" y="1077.4" font-family="Liberation Serif" font-size="7.48" font-weight="700" text-anchor="start" fill="#111" textLength="32.2" lengthAdjust="spacingAndGlyphs" stroke="#111" stroke-width="0.25">Muscle a*</text>
<text x="558.2" y="1158.2" font-family="Liberation Sans" font-size="7.8" font-weight="700" text-anchor="middle" fill="#000" textLength="47.7" lengthAdjust="spacingAndGlyphs">Component 1</text>
<text x="368.9" y="1050.8" font-family="Liberation Sans" font-size="8.0" font-weight="700" text-anchor="middle" fill="#000" textLength="48.3" lengthAdjust="spacingAndGlyphs" transform="rotate(-90 368.9 1050.8)">Component 2</text>
</svg>
</body></html>
